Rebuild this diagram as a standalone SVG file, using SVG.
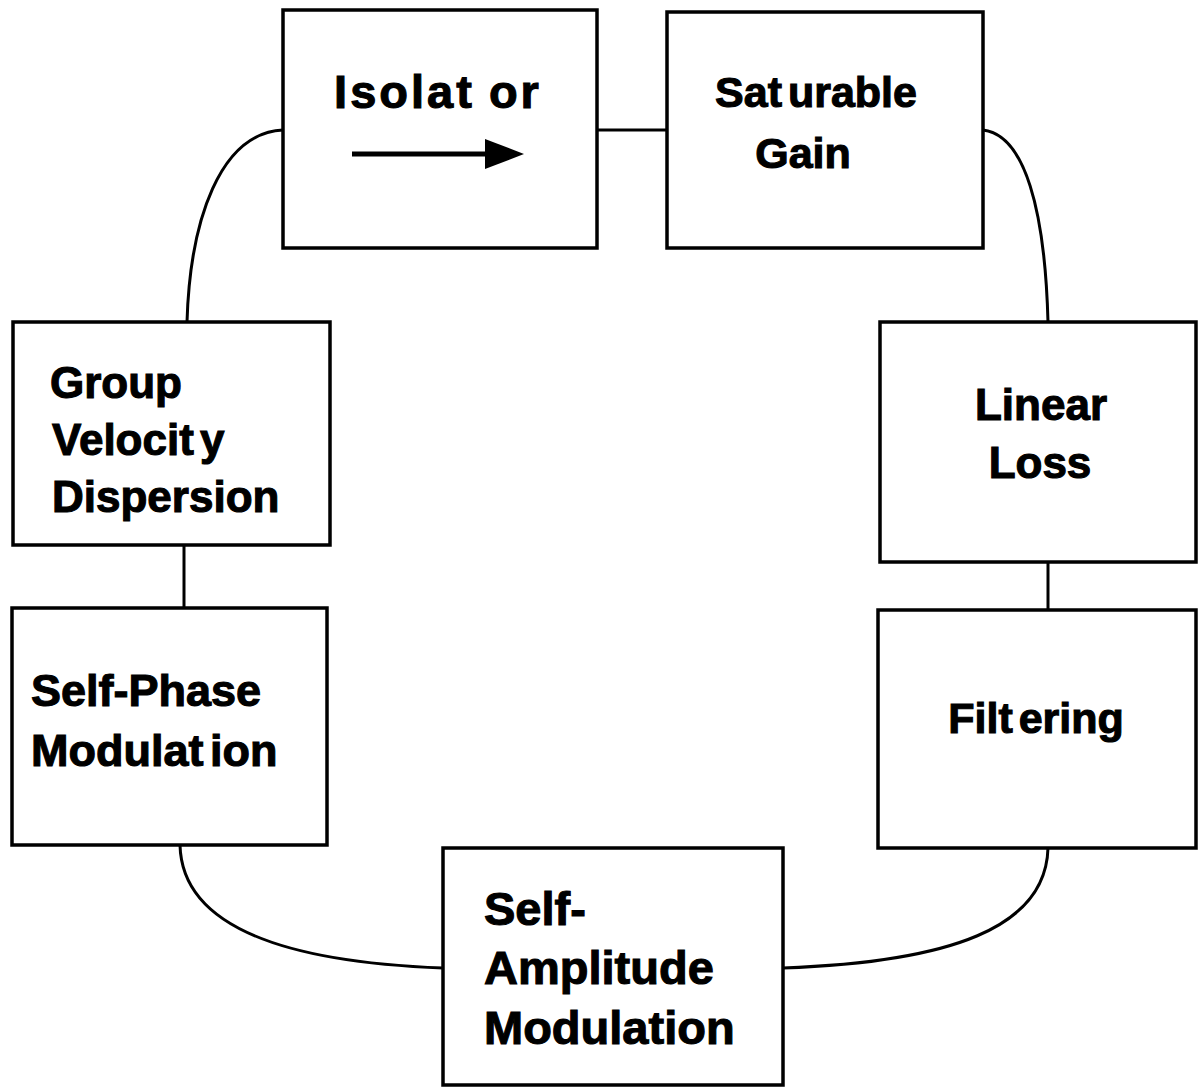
<svg xmlns="http://www.w3.org/2000/svg" width="1198" height="1087" viewBox="0 0 1198 1087">
<style>
.box{fill:#fff;stroke:#000;stroke-width:3.5}
.lbl{font-family:"Liberation Sans",Arial,sans-serif;font-weight:bold;font-size:44px;fill:#000;stroke:#000;stroke-width:1.1;word-spacing:-6px}
.con{fill:none;stroke:#000;stroke-width:3}
</style>
<rect width="1198" height="1087" fill="#fff"/>
<g id="connectors">
<line class="con" x1="597" y1="130" x2="667" y2="130"/>
<path class="con" d="M283,130 C220,133 190,220 187,322"/>
<line class="con" x1="184" y1="545" x2="184" y2="608"/>
<path class="con" d="M180,845 C182,925 280,962 443,968"/>
<path class="con" d="M983,130 C1025,135 1045,210 1048,322"/>
<line class="con" x1="1048" y1="562" x2="1048" y2="610"/>
<path class="con" d="M1048,848 C1046,928 950,962 783,968"/>
</g>
<g id="isolator">
<rect class="box" x="283" y="10" width="314" height="238"/>
<text class="lbl" x="438" y="108" text-anchor="middle" style="font-size:47px;letter-spacing:3px;word-spacing:-2px">Isolat or</text>
<line x1="352" y1="154" x2="490" y2="154" stroke="#000" stroke-width="5"/>
<path d="M485,139 L524,154 L485,169 z" fill="#000"/>
</g>
<g id="saturable-gain">
<rect class="box" x="667" y="12" width="316" height="236"/>
<text class="lbl" x="816" y="107" text-anchor="middle" style="font-size:43px">Sat urable</text>
<text class="lbl" x="803" y="168" text-anchor="middle" style="font-size:43px">Gain</text>
</g>
<g id="group-velocity-dispersion">
<rect class="box" x="13" y="322" width="317" height="223"/>
<text class="lbl" x="50" y="398">Group</text>
<text class="lbl" x="52" y="455">Velocit y</text>
<text class="lbl" x="52" y="512">Dispersion</text>
</g>
<g id="self-phase-modulation">
<rect class="box" x="12" y="608" width="315" height="237"/>
<text class="lbl" x="31" y="706" style="font-size:45px">Self-Phase</text>
<text class="lbl" x="31" y="766" style="font-size:45px">Modulat ion</text>
</g>
<g id="linear-loss">
<rect class="box" x="880" y="322" width="316" height="240"/>
<text class="lbl" x="1041" y="420" text-anchor="middle">Linear</text>
<text class="lbl" x="1040" y="478" text-anchor="middle">Loss</text>
</g>
<g id="filtering">
<rect class="box" x="878" y="610" width="318" height="238"/>
<text class="lbl" x="1036" y="733" text-anchor="middle" style="font-size:43px">Filt ering</text>
</g>
<g id="self-amplitude-modulation">
<rect class="box" x="443" y="848" width="340" height="237"/>
<text class="lbl" x="484" y="925" style="font-size:47px">Self-</text>
<text class="lbl" x="484" y="984" style="font-size:47px">Amplitude</text>
<text class="lbl" x="484" y="1044" style="font-size:47px">Modulation</text>
</g>
</svg>
